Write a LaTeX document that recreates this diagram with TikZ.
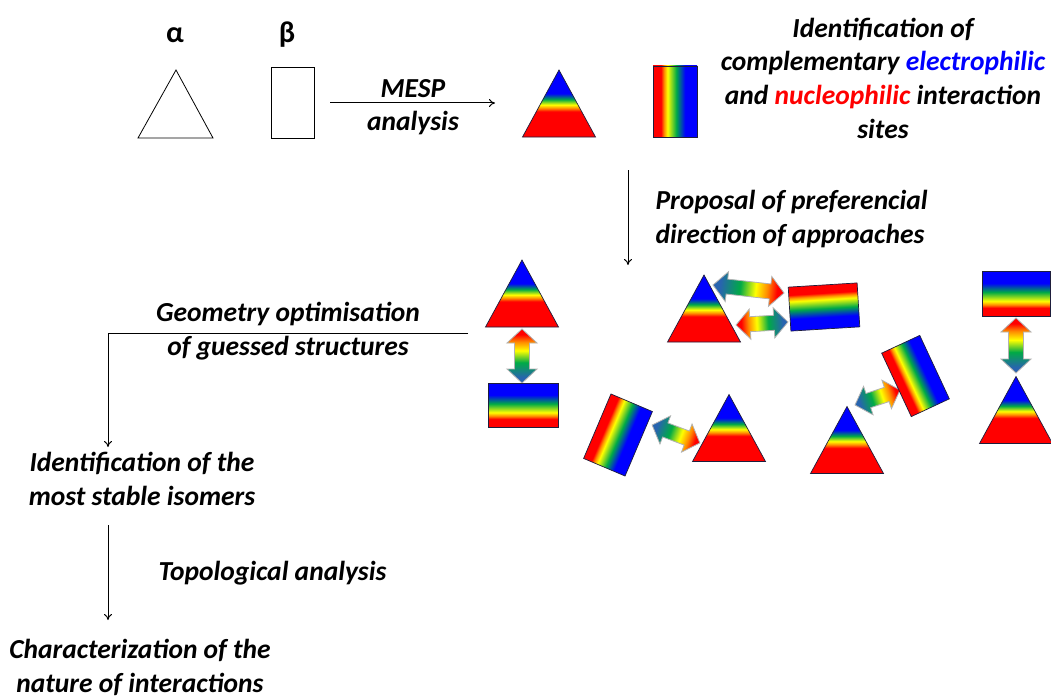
\documentclass[tikz,border=0pt]{standalone}
\usepackage{fontspec}
\setmainfont{Carlito}
\usetikzlibrary{positioning,arrows.meta}

% rainbow colours
\definecolor{rbred}{RGB}{255,0,0}
\definecolor{rborange}{RGB}{255,140,0}
\definecolor{rbyellow}{RGB}{255,255,0}
\definecolor{rbgreen}{RGB}{0,170,70}
\definecolor{rbblue}{RGB}{0,0,255}
\definecolor{arrblue}{RGB}{40,100,175}
\definecolor{outline}{RGB}{30,30,60}

% shadings (box of the path = 25bp..75bp)
\pgfdeclareverticalshading{trishade}{100bp}{color(0bp)=(rbred); color(44bp)=(rbred); color(46.5bp)=(rborange); color(49bp)=(rbyellow); color(53bp)=(rbgreen); color(57.5bp)=(rbblue); color(100bp)=(rbblue)}
\pgfdeclareverticalshading{rectshade}{100bp}{color(0bp)=(rbred); color(34bp)=(rbred); color(37.5bp)=(rborange); color(41.5bp)=(rbyellow); color(51.5bp)=(rbgreen); color(61.5bp)=(rbblue); color(100bp)=(rbblue)}
\pgfdeclarehorizontalshading{arrowshade}{100bp}{color(0bp)=(rbred); color(30bp)=(rbred); color(37bp)=(rborange); color(45bp)=(rbyellow); color(56bp)=(rbgreen); color(70bp)=(arrblue); color(100bp)=(arrblue)}

\tikzset{
  lbl/.style={font=\fontsize{27.5}{33.5}\selectfont\bfseries\itshape, align=center, inner sep=0pt},
  greek/.style={font=\fontsize{30}{36}\selectfont\bfseries, inner sep=0pt},
  rbtri/.style={shading=trishade, draw=outline, line width=0.7pt},
  rbrect/.style={shading=rectshade, draw=outline, line width=0.7pt},
  rbarrow/.style={shading=arrowshade, draw=black!30, line width=0.8pt},
  pics/rbtriangle/.style={code={
    \shadedraw[rbtri] (-36.5,33.5) -- (36.5,33.5) -- (0,-33.5) -- cycle;
  }},
}

% #1 centre, #2 angle, #3 width, #4 height
\newcommand{\rainbowrect}[4]{%
  \begin{scope}[transform canvas={shift={#1}, rotate=#2}]
    \shadedraw[rbrect] ({-#3/2},{-#4/2}) rectangle ({#3/2},{#4/2});
  \end{scope}}

% #1 centre, #2 angle (red end to blue end), #3 length
\newcommand{\fatarrow}[3]{%
  \begin{scope}[transform canvas={shift={#1}, rotate=#2}]
    \shadedraw[rbarrow]
      ({-#3/2},0) -- ({-#3/2+14},-15) -- ({-#3/2+14},-7.5) -- ({#3/2-14},-7.5)
      -- ({#3/2-14},-15) -- ({#3/2},0) -- ({#3/2-14},15) -- ({#3/2-14},7.5)
      -- ({-#3/2+14},7.5) -- ({-#3/2+14},15) -- cycle;
  \end{scope}}

\begin{document}
\begin{tikzpicture}[x=1pt, y=-1pt, >={To[length=6pt,width=8pt]}, line width=1pt]
  \useasboundingbox[fill=white] (0,0) rectangle (1051,698);

  % Fragments
  \node[greek, anchor=base] (alpha) at (175,43) {α};
  \node[greek, anchor=base] (beta) at (287,43) {β};
  \draw[line width=0.8pt] (176,70) -- (213,138) -- (138,138) -- cycle;
  \draw[line width=0.8pt] (271,67) rectangle (314,138);

  % MESP step (base = last line)
  \node[lbl, anchor=base] (mesp) at (413,131) {MESP\\analysis};
  \coordinate (mesp-from) at (330,103);
  \coordinate (mesp-to) at (495,103);
  \draw[->] (mesp-from) -- (mesp-to);

  \pic at (559,103.5) {rbtriangle};
  \rainbowrect{(675,101.5)}{-90}{71}{44}

  \node[lbl, anchor=base] (sites) at (883,138)
    {Identification of\\complementary \textcolor{rbblue}{electrophilic}\\and \textcolor{rbred}{nucleophilic} interaction\\sites};

  % Approaches
  \coordinate (prop-from) at (628,170);
  \coordinate (prop-to) at (628,265);
  \draw[->] (prop-from) -- (prop-to);
  \node[lbl, align=left, anchor=base west] (proposal) at (655,243)
    {Proposal of preferencial\\direction of approaches};

  % Guessed structures
  \fatarrow{(522,356)}{-90}{54}
  \pic at (522,293.5) {rbtriangle};
  \rainbowrect{(523,405)}{0}{70}{44}

  \fatarrow{(676,434)}{159.4}{51}
  \rainbowrect{(618,435)}{-113}{70}{45}
  \pic at (729,428) {rbtriangle};

  \fatarrow{(748.5,289)}{173.6}{71.5}
  \fatarrow{(762,323.5)}{3.3}{52}
  \pic at (704,308.5) {rbtriangle};
  \rainbowrect{(824,307)}{183.5}{69}{44}

  \fatarrow{(877.5,397.5)}{-161.6}{47.4}
  \rainbowrect{(915.5,376)}{-65}{70}{42}
  \pic at (847,440) {rbtriangle};

  \fatarrow{(1016,345.5)}{-90}{55}
  \rainbowrect{(1016,293.5)}{0}{68}{45}
  \pic at (1016,410) {rbtriangle};

  % Optimisation
  \node[lbl, anchor=base] (geomopt) at (288,355) {Geometry optimisation\\of guessed structures};
  \coordinate (geo-from) at (468,333);
  \coordinate (geo-bend) at (108,333);
  \coordinate (geo-to) at (108,447);
  \draw[->] (geo-from) -- (geo-bend) -- (geo-to);

  \node[lbl, anchor=base] (isomers) at (142,505) {Identification of the\\most stable isomers};

  % Topology
  \coordinate (topo-from) at (108,525);
  \coordinate (topo-to) at (108,620);
  \draw[->] (topo-from) -- (topo-to);
  \node[lbl, anchor=base west] (topo) at (158,580) {Topological analysis};

  \node[lbl, anchor=base] (charac) at (140,692) {Characterization of the\\nature of interactions};
\end{tikzpicture}
\end{document}
